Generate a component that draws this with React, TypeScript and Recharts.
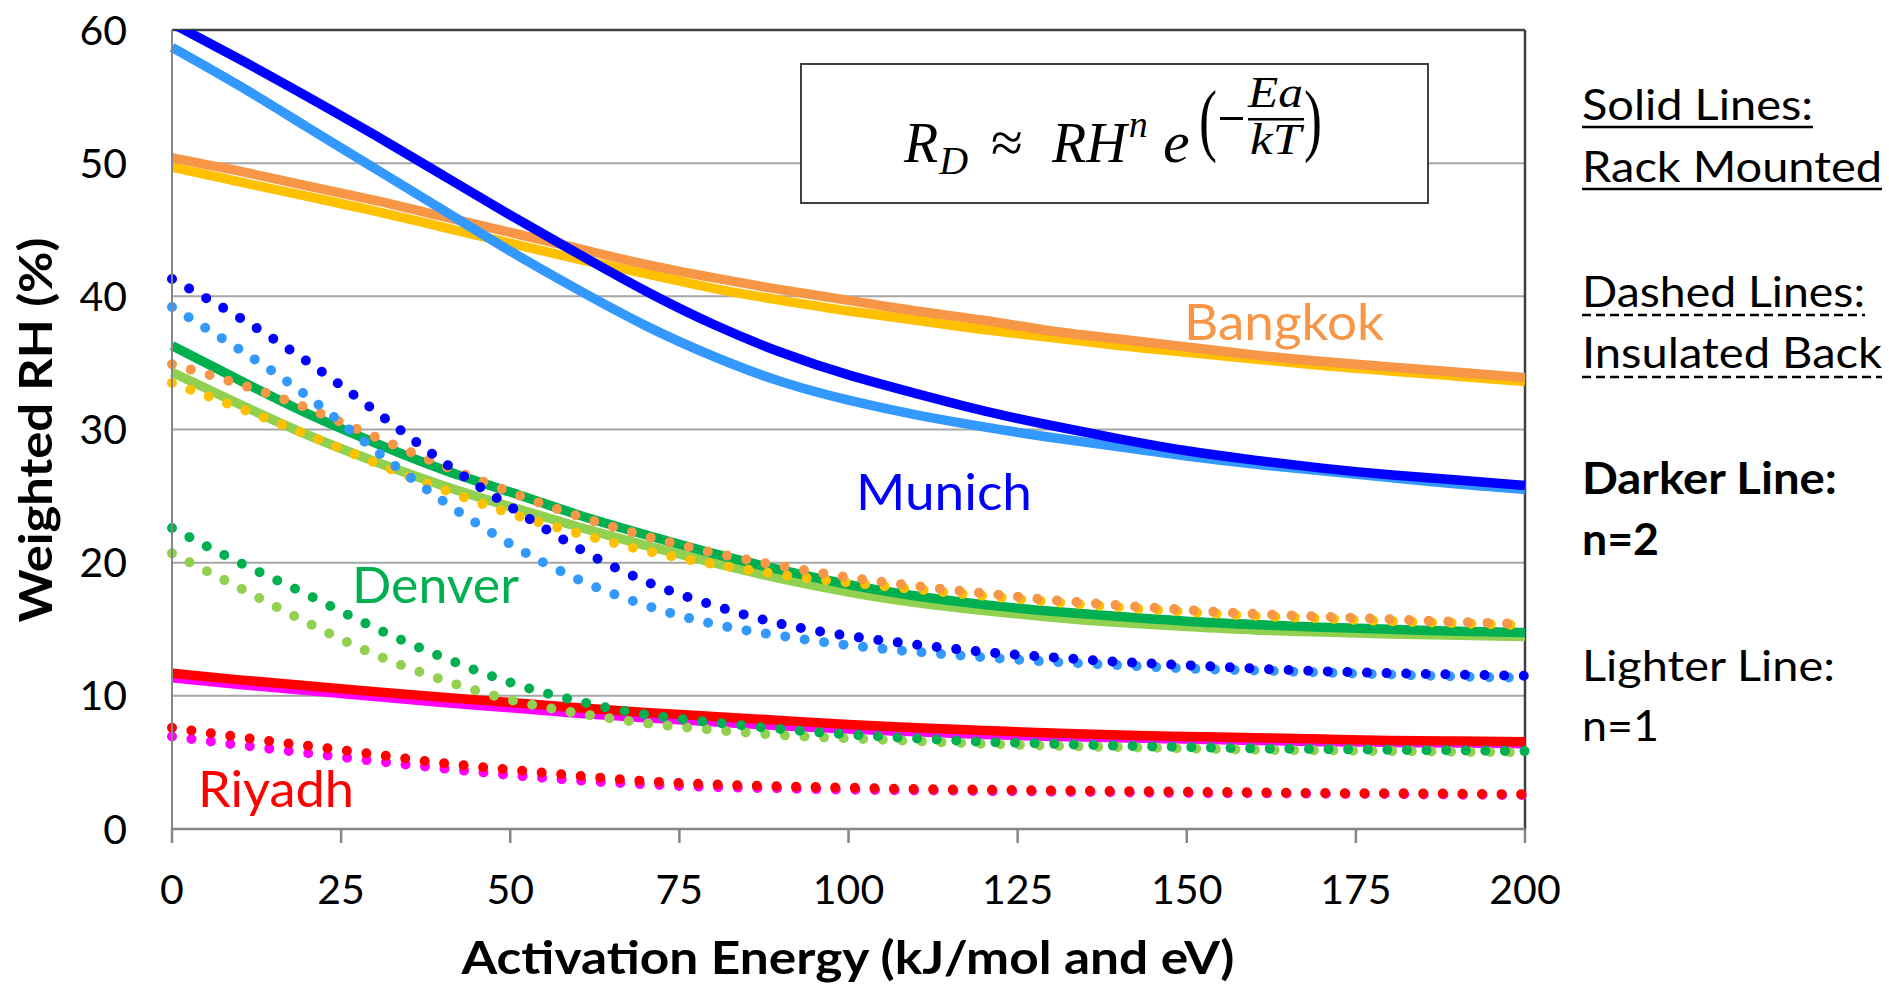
import React from 'react';
import { LineChart, Line, XAxis, YAxis, CartesianGrid, ReferenceLine } from 'recharts';

// Activation energy (kJ/mol and eV)
const activationEnergy = [0, 10, 20, 30, 40, 50, 60, 70, 80, 90, 100, 110, 120, 130, 140, 150, 160, 170, 180, 190, 200];

// Weighted RH (%) — rack mounted (solid lines)
const bangkokRackN2 = [50.4, 49.4, 48.3, 47.2, 46.0, 44.8, 43.6, 42.4, 41.4, 40.5, 39.7, 38.9, 38.2, 37.4, 36.8, 36.2, 35.6, 35.1, 34.7, 34.3, 33.9];
const bangkokRackN1 = [49.7, 48.6, 47.5, 46.4, 45.2, 44.0, 42.8, 41.7, 40.6, 39.7, 38.9, 38.2, 37.5, 36.9, 36.3, 35.8, 35.3, 34.8, 34.4, 34.0, 33.6];
const munichRackN2 = [60.5, 57.8, 55.0, 52.1, 49.1, 46.1, 43.2, 40.4, 37.9, 35.8, 34.1, 32.7, 31.4, 30.3, 29.3, 28.4, 27.7, 27.1, 26.6, 26.2, 25.8];
const munichRackN1 = [58.7, 55.8, 52.7, 49.6, 46.5, 43.4, 40.5, 37.8, 35.5, 33.6, 32.2, 31.1, 30.2, 29.4, 28.7, 28.0, 27.4, 26.9, 26.4, 25.9, 25.5];
const denverRackN2 = [36.3, 33.7, 31.2, 29.0, 27.0, 25.3, 23.6, 22.1, 20.7, 19.45, 18.35, 17.5, 16.85, 16.35, 15.95, 15.6, 15.35, 15.15, 15.0, 14.85, 14.75];
const denverRackN1 = [34.3, 31.9, 29.6, 27.6, 25.8, 24.2, 22.7, 21.3, 20.0, 18.8, 17.8, 17.0, 16.4, 15.9, 15.5, 15.2, 14.95, 14.8, 14.65, 14.55, 14.45];
const riyadhRackN2 = [11.7, 11.2, 10.75, 10.3, 9.9, 9.5, 9.1, 8.75, 8.45, 8.15, 7.85, 7.6, 7.4, 7.2, 7.05, 6.95, 6.85, 6.75, 6.65, 6.6, 6.55];
const riyadhRackN1 = [11.35, 10.85, 10.4, 9.95, 9.5, 9.1, 8.7, 8.35, 8.05, 7.75, 7.5, 7.3, 7.1, 6.95, 6.85, 6.75, 6.65, 6.55, 6.5, 6.45, 6.4];

// Weighted RH (%) — insulated back (dotted lines)
const bangkokInsN2 = [34.9, 33.4, 31.6, 29.45, 27.3, 25.3, 23.5, 22.0, 20.75, 19.75, 18.9, 18.25, 17.7, 17.2, 16.8, 16.45, 16.15, 15.95, 15.75, 15.55, 15.4];
const bangkokInsN1 = [33.5, 31.6, 29.6, 27.5, 25.5, 23.7, 22.2, 20.9, 19.9, 19.1, 18.5, 18.0, 17.5, 17.05, 16.65, 16.3, 16.0, 15.8, 15.6, 15.45, 15.3];
const munichInsN2 = [41.3, 38.4, 35.1, 31.4, 27.6, 24.2, 21.1, 18.6, 16.8, 15.4, 14.5, 13.85, 13.3, 12.9, 12.55, 12.3, 12.05, 11.85, 11.7, 11.6, 11.5];
const munichInsN1 = [39.2, 36.0, 32.5, 28.45, 24.65, 21.4, 18.75, 16.8, 15.4, 14.5, 13.8, 13.3, 12.9, 12.55, 12.3, 12.05, 11.9, 11.75, 11.6, 11.45, 11.35];
const denverInsN2 = [22.6, 20.0, 17.6, 15.1, 12.9, 11.0, 9.6, 8.6, 8.0, 7.5, 7.1, 6.8, 6.55, 6.4, 6.25, 6.15, 6.05, 6.0, 5.95, 5.9, 5.85];
const denverInsN1 = [20.7, 18.1, 15.5, 13.1, 11.2, 9.7, 8.7, 7.95, 7.45, 7.05, 6.8, 6.6, 6.4, 6.25, 6.15, 6.05, 5.95, 5.9, 5.85, 5.8, 5.75];
const riyadhInsN2 = [7.6, 6.9, 6.25, 5.6, 4.95, 4.45, 4.0, 3.6, 3.35, 3.2, 3.1, 3.0, 2.95, 2.9, 2.85, 2.8, 2.75, 2.7, 2.68, 2.65, 2.6];
const riyadhInsN1 = [6.95, 6.3, 5.7, 5.1, 4.55, 4.05, 3.65, 3.35, 3.15, 3.05, 2.95, 2.9, 2.85, 2.8, 2.75, 2.7, 2.68, 2.65, 2.62, 2.58, 2.55];

const xTicks = [0, 25, 50, 75, 100, 125, 150, 175, 200];
const yTicks = [0, 10, 20, 30, 40, 50, 60];

type SeriesDef = { key: string; values: number[]; color: string; dotted: boolean };

// Drawing order: lighter (n=1) beneath darker (n=2), dotted on top of solid
const seriesList: SeriesDef[] = [
  { key: 'bangkokRackN1', values: bangkokRackN1, color: '#FFC000', dotted: false },
  { key: 'bangkokRackN2', values: bangkokRackN2, color: '#F79646', dotted: false },
  { key: 'munichRackN1', values: munichRackN1, color: '#3399FF', dotted: false },
  { key: 'munichRackN2', values: munichRackN2, color: '#0000FF', dotted: false },
  { key: 'denverRackN1', values: denverRackN1, color: '#92D050', dotted: false },
  { key: 'denverRackN2', values: denverRackN2, color: '#00B050', dotted: false },
  { key: 'riyadhRackN1', values: riyadhRackN1, color: '#FF00FF', dotted: false },
  { key: 'riyadhRackN2', values: riyadhRackN2, color: '#FF0000', dotted: false },
  { key: 'bangkokInsN1', values: bangkokInsN1, color: '#FFC000', dotted: true },
  { key: 'bangkokInsN2', values: bangkokInsN2, color: '#F79646', dotted: true },
  { key: 'munichInsN1', values: munichInsN1, color: '#3399FF', dotted: true },
  { key: 'munichInsN2', values: munichInsN2, color: '#0000FF', dotted: true },
  { key: 'denverInsN1', values: denverInsN1, color: '#92D050', dotted: true },
  { key: 'denverInsN2', values: denverInsN2, color: '#00B050', dotted: true },
  { key: 'riyadhInsN1', values: riyadhInsN1, color: '#FF00FF', dotted: true },
  { key: 'riyadhInsN2', values: riyadhInsN2, color: '#FF0000', dotted: true },
];

const data = activationEnergy.map((ea, i) => {
  const row: Record<string, number> = { ea };
  seriesList.forEach((s) => {
    row[s.key] = s.values[i];
  });
  return row;
});

const FONT = "Lato, 'Open Sans', sans-serif";
const MATH = "'Liberation Serif', 'DejaVu Serif', serif";

const cityLabels = [
  { text: 'Bangkok', color: '#F79646', x: 1184, y: 340, w: 200 },
  { text: 'Munich', color: '#0000FF', x: 856, y: 510, w: 176 },
  { text: 'Denver', color: '#00B050', x: 352, y: 603, w: 167 },
  { text: 'Riyadh', color: '#FF0000', x: 198, y: 807, w: 156 },
];

const notes = [
  { text: 'Solid Lines:', y: 120, w: 231, bold: false, underline: 'solid', uy: 127 },
  { text: 'Rack Mounted', y: 182, w: 300, bold: false, underline: 'solid', uy: 189 },
  { text: 'Dashed Lines:', y: 307, w: 283, bold: false, underline: 'dashed', uy: 315 },
  { text: 'Insulated Back', y: 368, w: 300, bold: false, underline: 'dashed', uy: 377 },
  { text: 'Darker Line:', y: 494, w: 255, bold: true, underline: '', uy: 0 },
  { text: 'n=2', y: 555, w: 77, bold: true, underline: '', uy: 0 },
  { text: 'Lighter Line:', y: 681, w: 253, bold: false, underline: '', uy: 0 },
  { text: 'n=1', y: 741, w: 77, bold: false, underline: '', uy: 0 },
];

export default function App() {
  return (
    <div style={{ position: 'absolute', left: 0, top: 0, width: 1889, height: 987, background: '#fff' }}>
      <LineChart
        width={1889}
        height={987}
        data={data}
        margin={{ top: 30, right: 364, bottom: 98, left: 72 }}
      >
        <CartesianGrid vertical={false} stroke="#A6A6A6" strokeWidth={2} />
        <XAxis
          dataKey="ea"
          type="number"
          domain={[0, 200]}
          ticks={xTicks}
          height={60}
          stroke="#868686"
          strokeWidth={2.5}
          tickSize={14}
          tickMargin={32}
          tick={{ fill: '#000', fontSize: 41, fontFamily: FONT }}
        />
        <YAxis
          type="number"
          domain={[0, 60]}
          ticks={yTicks}
          allowDataOverflow
          width={100}
          stroke="#868686"
          strokeWidth={2}
          tickLine={false}
          tickSize={0}
          tickMargin={45}
          tick={{ fill: '#000', fontSize: 41, fontFamily: FONT }}
        />
        <ReferenceLine y={60} stroke="#404040" strokeWidth={2.5} />
        <ReferenceLine x={200} stroke="#404040" strokeWidth={2.5} />
        {seriesList.map((s) => (
          <Line
            key={s.key}
            type="natural"
            dataKey={s.key}
            stroke={s.color}
            strokeWidth={s.dotted ? 10 : 9.5}
            strokeDasharray={s.dotted ? '0 19.6' : undefined}
            strokeLinecap={s.dotted ? 'round' : 'butt'}
            dot={false}
            activeDot={false}
            isAnimationActive={false}
          />
        ))}
      </LineChart>

      <svg
        width={1889}
        height={987}
        style={{ position: 'absolute', left: 0, top: 0, pointerEvents: 'none' }}
      >
        {/* axis titles */}
        <text
          transform="translate(52,430) rotate(-90)"
          textAnchor="middle"
          fontFamily={FONT}
          fontWeight={700}
          fontSize={46}
          textLength={385}
          lengthAdjust="spacingAndGlyphs"
          fill="#000"
        >
          Weighted RH (%)
        </text>
        <text
          x={848}
          y={974}
          textAnchor="middle"
          fontFamily={FONT}
          fontWeight={700}
          fontSize={46}
          textLength={773}
          lengthAdjust="spacingAndGlyphs"
          fill="#000"
        >
          Activation Energy (kJ/mol and eV)
        </text>

        {/* city labels */}
        {cityLabels.map((c) => (
          <text
            key={c.text}
            x={c.x}
            y={c.y}
            fill={c.color}
            fontFamily={FONT}
            fontSize={51}
            textLength={c.w}
            lengthAdjust="spacingAndGlyphs"
          >
            {c.text}
          </text>
        ))}

        {/* rate equation: R_D ≈ RH^n e^(−Ea/kT) */}
        <rect x={801} y={64} width={627} height={139} fill="#fff" stroke="#404040" strokeWidth={2} />
        <g fontFamily={MATH} fill="#000">
          <text x={904} y={162} fontSize={56} fontStyle="italic">
            R<tspan fontSize={40} dx={1} dy={12}>D</tspan>
          </text>
          <text x={991} y={162} fontSize={58}>≈</text>
          <text x={1052} y={162} fontSize={56} fontStyle="italic">
            RH<tspan fontSize={38} dx={2} dy={-25}>n</tspan>
          </text>
          <text x={1163} y={162} fontSize={60} fontStyle="italic">e</text>
          <text x={1199} y={146} fontSize={80} textLength={18} lengthAdjust="spacingAndGlyphs">(</text>
          <rect x={1220} y={117} width={23} height={3} />
          <text x={1248} y={107} fontSize={44} fontStyle="italic" textLength={55} lengthAdjust="spacingAndGlyphs">Ea</text>
          <rect x={1248} y={118} width={56} height={2.5} />
          <text x={1250} y={154} fontSize={44} fontStyle="italic" textLength={51} lengthAdjust="spacingAndGlyphs">kT</text>
          <text x={1304} y={146} fontSize={80} textLength={18} lengthAdjust="spacingAndGlyphs">)</text>
        </g>

        {/* notes on line styles */}
        {notes.map((n) => (
          <g key={n.text}>
            <text
              x={1582}
              y={n.y}
              fontFamily={FONT}
              fontSize={43}
              fontWeight={n.bold ? 700 : 400}
              textLength={n.w}
              lengthAdjust="spacingAndGlyphs"
              fill="#000"
            >
              {n.text}
            </text>
            {n.underline && (
              <line
                x1={1582}
                x2={1582 + n.w}
                y1={n.uy}
                y2={n.uy}
                stroke="#000"
                strokeWidth={2.5}
                strokeDasharray={n.underline === 'dashed' ? '9 5' : undefined}
              />
            )}
          </g>
        ))}
      </svg>
    </div>
  );
}
